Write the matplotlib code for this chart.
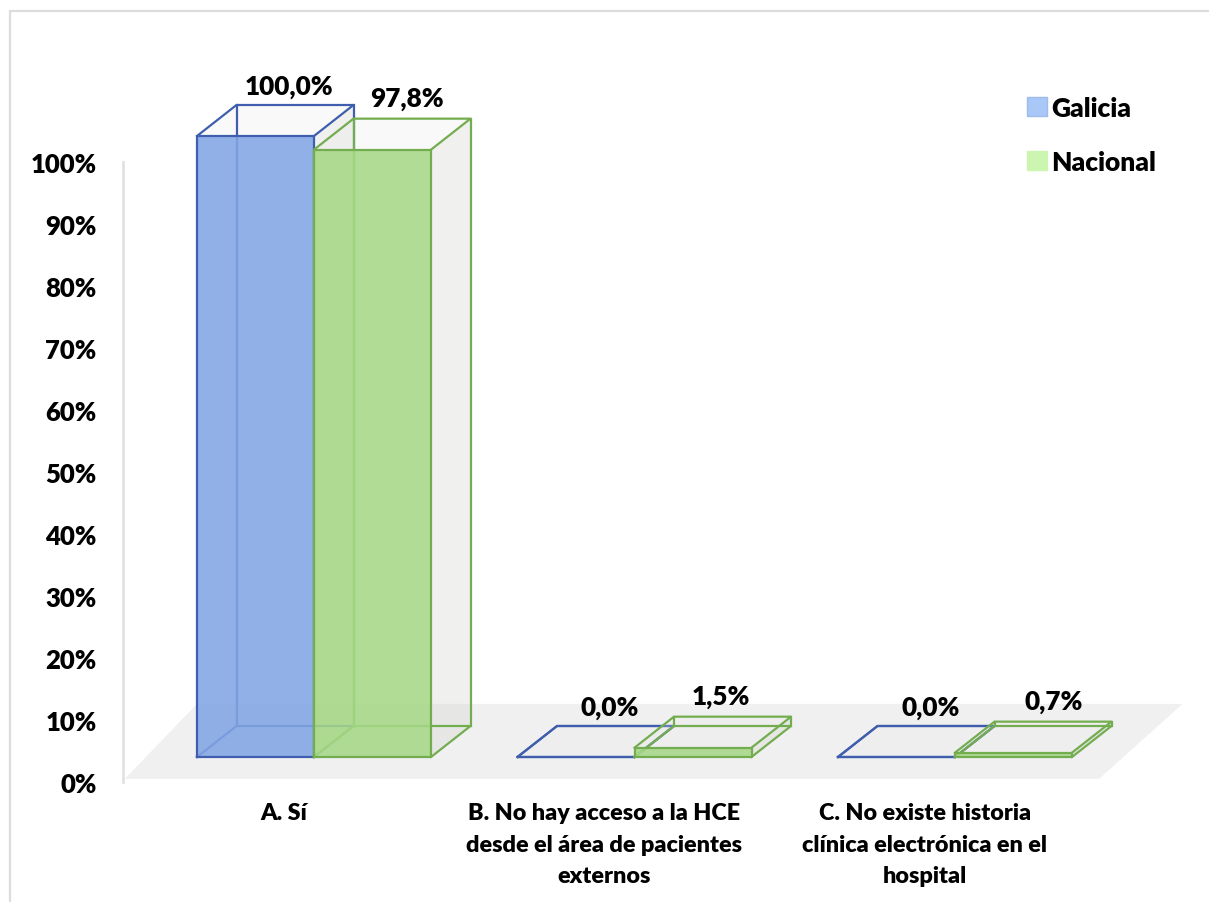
import matplotlib
matplotlib.use('Agg')
import matplotlib.pyplot as plt
from matplotlib.lines import Line2D
from matplotlib.patches import Patch

plt.rcParams['font.family'] = ['Lato', 'DejaVu Sans']
plt.rcParams['font.weight'] = 'bold'

# Chart data
categories = ['A. Sí',
              'B. No hay acceso a la HCE\ndesde el área de pacientes\nexternos',
              'C. No existe historia\nclínica electrónica en el\nhospital']
galicia = [100.0, 0.0, 0.0]
nacional = [97.8, 1.5, 0.7]
y_ticks = [0, 10, 20, 30, 40, 50, 60, 70, 80, 90, 100]

W, H = 1209, 903
PX_X = 320.5   # pixels per category
PX_Y = 6.21    # pixels per percent
X0, Y0 = 314, 758  # pixel position of first group centre / value 0

BAR_W = 117 / PX_X
DX = 39.5 / PX_X
DY = 31 / PX_Y

BLUE_FACE, BLUE_EDGE = '#82a5e4', '#3f5fae'
GREEN_FACE, GREEN_EDGE = '#a6d886', '#74ad50'
WEIGHT = 800

fig = plt.figure(figsize=(W / 100, H / 100), dpi=100, facecolor='white')

# Frame around the picture (left and top only reach the page)
fig.add_artist(Line2D([10 / W, 10 / W, 1], [0, 1 - 12 / H, 1 - 12 / H], color='#dcdcdc', lw=1.6))

# Axis with the percent labels, it sits a bit lower than the bars
ax_y = fig.add_axes([123 / W, 1 - 783 / H, 1 / W, 620 / H])
ax_y.set_ylim(0, 100)
ax_y.set_xticks([])
ax_y.set_yticks(y_ticks)
ax_y.set_yticklabels([f'{t}%' for t in y_ticks], fontsize=18.5, fontweight=WEIGHT)
ax_y.tick_params(axis='y', length=0, pad=19)
for side in ['top', 'right', 'bottom']:
    ax_y.spines[side].set_visible(False)
ax_y.spines['left'].set_color('#e2e2e2')
ax_y.spines['left'].set_linewidth(2)

# Main axes covers the figure, bars use its data scale
ax = fig.add_axes([0, 0, 1, 1])
ax.patch.set_alpha(0)
ax.set_xlim(-X0 / PX_X, (W - X0) / PX_X)
ax.set_ylim(-(H - Y0) / PX_Y, Y0 / PX_Y)
ax.axis('off')

# Floor of the 3D chart
floor_x = [-0.59, 2.45, 2.71, -0.365]
floor_y = [-3.5, -3.5, 8.55, 8.55]
ax.fill(floor_x, floor_y, color='#f0f0f0', lw=0, zorder=1)


def draw_box(left, value, face, edge, z):
    right = left + BAR_W
    # translucent side and top faces
    ax.fill([right, right + DX, right + DX, right], [0, DY, value + DY, value],
            color='#d8dad4', alpha=0.38, lw=0, zorder=z)
    ax.fill([left, right, right + DX, left + DX], [value, value, value + DY, value + DY],
            color='#e8e8e8', alpha=0.22, lw=0, zorder=z)
    # back edges
    lw = 1.6
    ax.plot([left, left + DX, right + DX, right], [0, DY, DY, 0], color=edge, lw=lw, zorder=z + 1)
    ax.plot([left + DX, left + DX], [DY, value + DY], color=edge, lw=lw, zorder=z + 1)
    ax.plot([right + DX, right + DX], [DY, value + DY], color=edge, lw=lw, zorder=z + 1)
    ax.plot([left, left + DX, right + DX, right], [value, value + DY, value + DY, value],
            color=edge, lw=lw, zorder=z + 1)
    # front face
    ax.bar(left, value, width=BAR_W, align='edge', color=face, alpha=0.88, lw=0, zorder=z + 2)
    ax.plot([left, left, right, right, left], [0, value, value, 0, 0], color=edge, lw=lw, zorder=z + 3)


for i in range(len(categories)):
    draw_box(i - BAR_W, galicia[i], BLUE_FACE, BLUE_EDGE, 2)
    draw_box(i, nacional[i], GREEN_FACE, GREEN_EDGE, 6)

# Value labels, up and to the right of each front face
nudge_gal = [0, 0, 0]
nudge_nac = [0, -6, 6]
for i in range(len(categories)):
    ax.annotate(f'{galicia[i]:.1f}%'.replace('.', ','), (i - BAR_W / 2, galicia[i]),
                xytext=((34 + nudge_gal[i]) * 0.72, 50 * 0.72), textcoords='offset points',
                ha='center', va='center', fontsize=18.8, fontweight=WEIGHT, zorder=12)
    ax.annotate(f'{nacional[i]:.1f}%'.replace('.', ','), (i + BAR_W / 2, nacional[i]),
                xytext=((34 + nudge_nac[i]) * 0.72, 52 * 0.72), textcoords='offset points',
                ha='center', va='center', fontsize=18.8, fontweight=WEIGHT, zorder=12)

# Category labels
for i, name in enumerate(categories):
    ax.text(i - 30 / PX_X, -(803 - Y0) / PX_Y, name, ha='center', va='top',
            fontsize=16.8, fontweight=WEIGHT, linespacing=1.62)

# Legend
handles = [Patch(facecolor='#a9c8f7', edgecolor='#9dbcec', label='Galicia'),
           Patch(facecolor='#ccf5b0', edgecolor='#ccf5b0', label='Nacional')]
fig.legend(handles=handles, loc='upper left', bbox_to_anchor=(1027 / W, 1 - 97 / H),
           frameon=False, handlelength=0.74, handleheight=0.74,
           handletextpad=0.18, labelspacing=1.12, borderpad=0, borderaxespad=0,
           prop={'size': 19, 'weight': WEIGHT})

fig.savefig('out.png', dpi=100)
